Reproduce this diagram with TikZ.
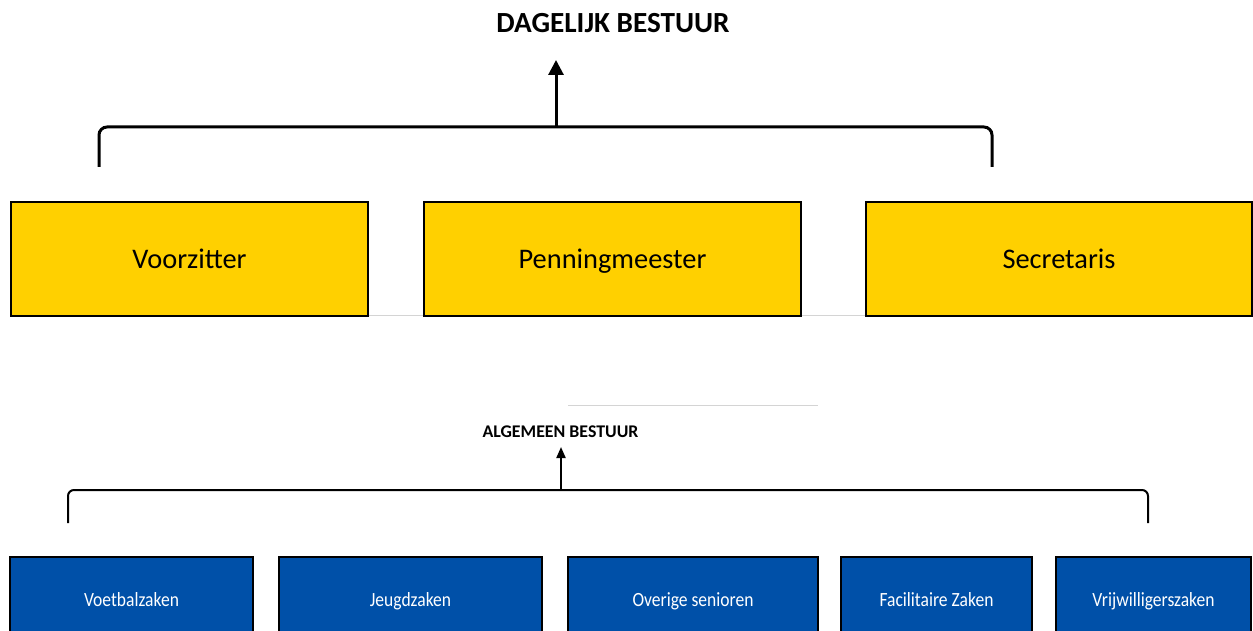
\documentclass[tikz,border=0pt]{standalone}
\usepackage{fontspec}
\setmainfont{Carlito}
\usetikzlibrary{arrows.meta}
\definecolor{dbyellow}{RGB}{255,208,0}
\definecolor{abblue}{RGB}{0,80,168}
\definecolor{sepgray}{RGB}{212,212,212}
\newcommand{\tallt}[1]{\scalebox{1}[1.15]{#1}}
\begin{document}
\begin{tikzpicture}[x=1bp,y=-1bp,
  ybox/.style={draw=black, line width=2bp, fill=dbyellow, minimum height=114bp, inner sep=0pt, text height=20bp, text depth=0pt, font=\fontsize{28.5}{32}\selectfont},
  bbox/.style={draw=black, line width=1.5bp, fill=abblue, text=white, minimum height=86bp, inner sep=0pt, text height=13bp, text depth=0pt, font=\fontsize{17.6}{20}\selectfont},
  head/.style={font=\bfseries\fontsize{29.3}{32}\selectfont, inner sep=0pt, anchor=base},
  subhead/.style={font=\bfseries\fontsize{17.9}{20}\selectfont, inner sep=0pt, anchor=base},
  bigbracket/.style={line width=3bp, rounded corners=8bp},
  smallbracket/.style={line width=2bp, rounded corners=6bp},
  sep/.style={draw=sepgray, line width=1bp}]
\useasboundingbox (0,0) rectangle (1253,631);
% separator lines
\draw[sep] (11,316) -- (1253,316);
\draw[sep] (568,405) -- (818,405);
% titles
\node[head] (db) at (613,33) {DAGELIJK BESTUUR};
\node[subhead] (ab) at (560.5,437) {ALGEMEEN BESTUUR};
% yellow boxes
\node[ybox, minimum width=357bp] (vz) at (189.5,259) {Voorzitter};
\node[ybox, minimum width=377bp] (pm) at (612.5,259) {Penningmeester};
\node[ybox, minimum width=386bp] (sc) at (1059,259) {Secretaris};
% blue boxes
\node[bbox, minimum width=243bp] (vb) at (131.5,600) {\tallt{Voetbalzaken}};
\node[bbox, minimum width=263bp] (jz) at (410.5,600) {\tallt{Jeugdzaken}};
\node[bbox, minimum width=250bp] (os) at (693,600) {\tallt{Overige senioren}};
\node[bbox, minimum width=191bp] (fz) at (936.5,600) {\tallt{Facilitaire Zaken}};
\node[bbox, minimum width=195bp] (vw) at (1153.5,600) {\tallt{Vrijwilligerszaken}};
% top bracket
\coordinate (dbL) at (99,167);
\coordinate (dbR) at (992,167);
\coordinate (dbM) at (556,127);
\coordinate (dbTip) at (556,60);
\draw[bigbracket] (dbL) |- (dbM) -| (dbR);
\draw[line width=3bp, -{Triangle[length=15bp,width=15bp]}] (dbM) -- (dbTip);
% bottom bracket
\coordinate (abL) at (68,523);
\coordinate (abR) at (1148,523);
\coordinate (abM) at (561,490);
\coordinate (abTip) at (561,447);
\draw[smallbracket] (abL) |- (abM) -| (abR);
\draw[line width=2bp, -{Triangle[length=11bp,width=9bp]}] (abM) -- (abTip);
\end{tikzpicture}
\end{document}
